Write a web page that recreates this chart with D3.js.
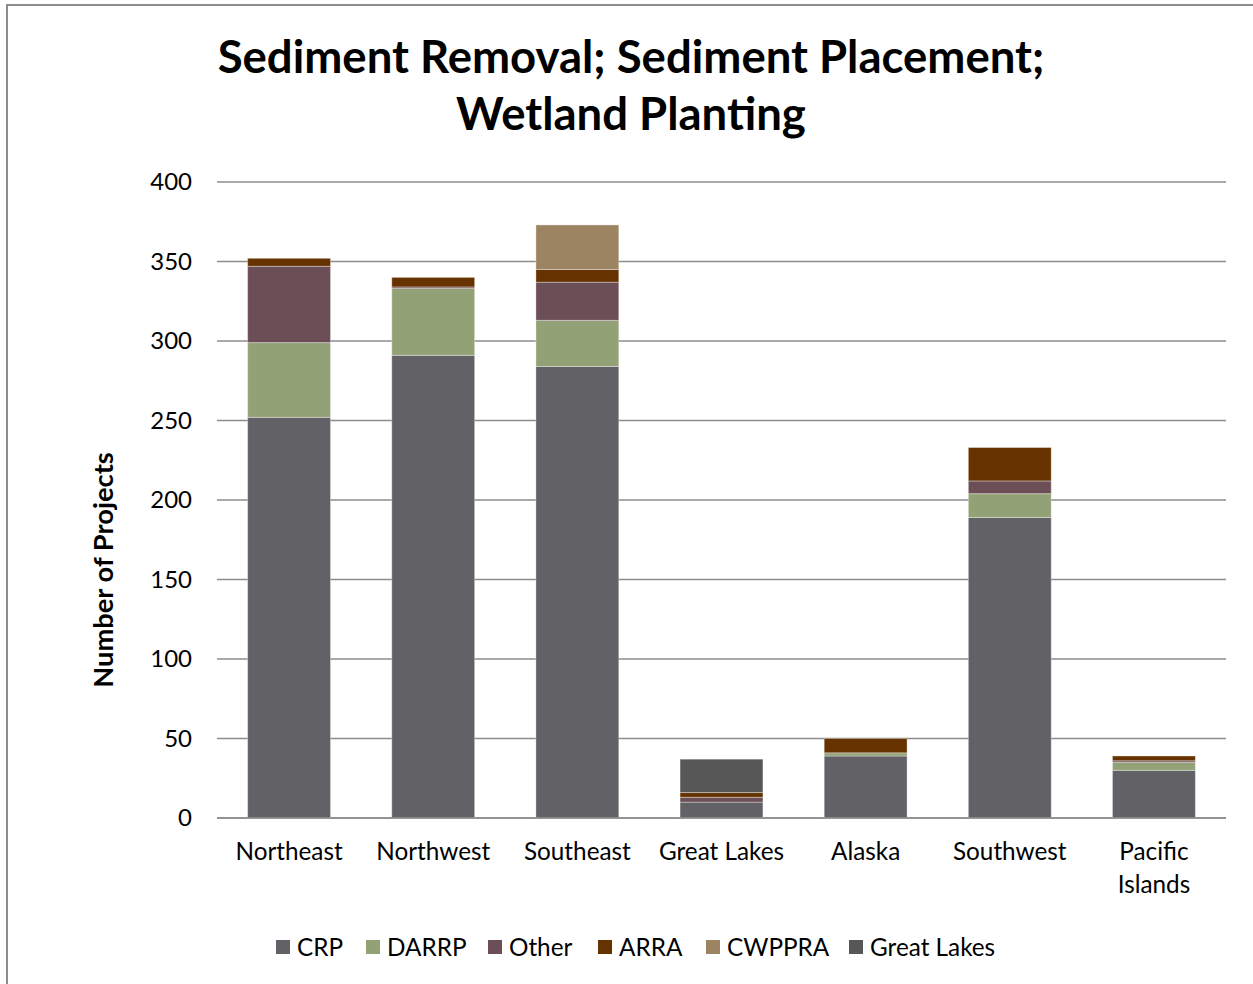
<!DOCTYPE html>
<html>
<head>
<meta charset="utf-8">
<script src="https://cdn.jsdelivr.net/npm/d3@7"></script>
<style>
body { margin: 0; background: #fff; }
text { font-family: Lato, "Open Sans", sans-serif; fill: #000; }
.axis path, .axis line { display: none; }
.grid line { stroke: #8c8c8c; stroke-width: 1.5; }
</style>
</head>
<body>
<script>
var width = 1253;
var height = 984;

var regions = ["Northeast", "Northwest", "Southeast", "Great Lakes", "Alaska", "Southwest", "Pacific Islands"];
var programs = ["CRP", "DARRP", "Other", "ARRA", "CWPPRA", "Great Lakes"];
var colors = ["#626166", "#93a177", "#6b4e56", "#663300", "#9c8462", "#575757"];

var crp        = [252, 291, 284, 10, 39, 189, 30];
var darrp      = [47, 42, 29, 0, 2, 15, 5];
var other      = [48, 1, 24, 3, 0, 8, 1];
var arra       = [5, 6, 8, 3, 9, 21, 3];
var cwppra     = [0, 0, 28, 0, 0, 0, 0];
var greatLakes = [0, 0, 0, 21, 0, 0, 0];
var yTicks = [0, 50, 100, 150, 200, 250, 300, 350, 400];

var seriesValues = [crp, darrp, other, arra, cwppra, greatLakes];
var rows = regions.map(function(r, i) {
    var row = {region: r};
    programs.forEach(function(p, j) { row[p] = seriesValues[j][i]; });
    return row;
});
var stacked = d3.stack().keys(programs)(rows);

var margin = {left: 217, right: 27, top: 182, bottom: 166};

var x = d3.scaleBand()
    .domain(regions)
    .range([margin.left, width - margin.right])
    .paddingInner(0.425)
    .paddingOuter(0.2125);
var y = d3.scaleLinear()
    .domain([0, 400])
    .range([height - margin.bottom, margin.top]);
var color = d3.scaleOrdinal().domain(programs).range(colors);

var svg = d3.select("body").append("svg")
    .attr("width", width)
    .attr("height", height);

svg.append("rect")
    .attr("x", 7)
    .attr("y", 5)
    .attr("width", width + 20)
    .attr("height", height + 20)
    .attr("fill", "#fff")
    .attr("stroke", "#8c8c8c")
    .attr("stroke-width", 2);

// title
var title = svg.append("text")
    .attr("text-anchor", "middle")
    .attr("font-weight", "bold")
    .attr("font-size", 45.5);
title.append("tspan").attr("x", 631).attr("y", 73).text("Sediment Removal; Sediment Placement;");
title.append("tspan").attr("x", 631).attr("y", 130).text("Wetland Planting");

// gridlines
svg.append("g")
    .attr("class", "grid")
    .selectAll("line")
    .data(yTicks)
    .enter().append("line")
    .attr("x1", margin.left)
    .attr("x2", width - margin.right)
    .attr("y1", d => y(d))
    .attr("y2", d => y(d));

// bars
svg.append("g")
    .selectAll("g")
    .data(stacked)
    .enter().append("g")
    .attr("fill", d => color(d.key))
    .selectAll("rect")
    .data(d => d)
    .enter().append("rect")
    .attr("x", d => x(d.data.region))
    .attr("width", x.bandwidth())
    .attr("y", d => y(d[1]))
    .attr("height", d => y(d[0]) - y(d[1]))
    .attr("stroke", "rgba(255,255,255,0.35)")
    .attr("stroke-width", d => d[1] > d[0] ? 1 : 0);

// baseline
svg.append("line")
    .attr("x1", margin.left)
    .attr("x2", width - margin.right)
    .attr("y1", y(0))
    .attr("y2", y(0))
    .attr("stroke", "#8c8c8c")
    .attr("stroke-width", 1.5);

// y axis
var yAxis = svg.append("g")
    .attr("class", "axis")
    .attr("transform", `translate(${margin.left}, 0)`)
    .call(d3.axisLeft(y).tickValues(yTicks).tickSize(0).tickPadding(25));
yAxis.selectAll("text")
    .attr("font-size", 24)
    .style("font-family", "Lato, sans-serif")
    .attr("fill", "#000");

// x axis
var xAxis = svg.append("g")
    .attr("class", "axis")
    .attr("transform", `translate(0, ${y(0)})`)
    .call(d3.axisBottom(x).tickSize(0).tickPadding(0));
xAxis.selectAll("text").remove();
xAxis.selectAll(".tick").each(function(d) {
    var words = d === "Pacific Islands" ? ["Pacific", "Islands"] : [d];
    var t = d3.select(this).append("text")
        .attr("text-anchor", "middle")
        .attr("font-size", 24.3)
        .attr("fill", "#000")
        .style("font-family", "Lato, sans-serif");
    words.forEach(function(w, i) {
        t.append("tspan").attr("x", 0).attr("y", 42 + i * 33).text(w);
    });
});

// y label
svg.append("text")
    .attr("transform", "translate(113, 570) rotate(-90)")
    .attr("text-anchor", "middle")
    .attr("font-weight", "bold")
    .attr("font-size", 27.3)
    .text("Number of Projects");

// legend
var legendX = [276, 366, 488, 598, 706, 849];
var legend = svg.append("g")
    .selectAll("g")
    .data(programs)
    .enter().append("g")
    .attr("transform", (d, i) => `translate(${legendX[i]}, 947)`);
legend.append("rect")
    .attr("x", 0)
    .attr("y", -7)
    .attr("width", 14)
    .attr("height", 14)
    .attr("fill", d => color(d));
legend.append("text")
    .attr("x", 21)
    .attr("y", 9)
    .attr("font-size", 24.3)
    .text(d => d);
</script>
</body>
</html>
